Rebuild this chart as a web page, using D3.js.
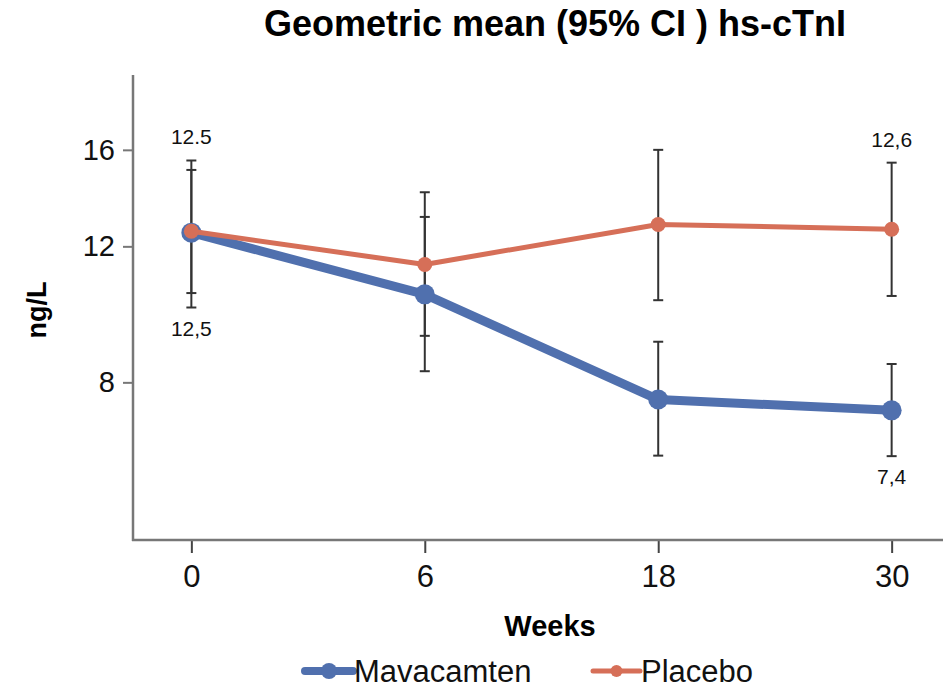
<!DOCTYPE html>
<html><head><meta charset="utf-8">
<script src="https://cdn.jsdelivr.net/npm/d3@7"></script>
<style>body{margin:0;background:#fff}svg{display:block}text{font-family:"Liberation Sans",Arial,sans-serif}</style>
</head><body>
<svg id="c" width="943" height="689"></svg>
<script>
const weeks = ["0","6","18","30"];
const mavMean = [12.5, 10.4, 7.6, 7.36];
const mavLow  = [10.0, 8.27, 6.43, 6.42];
const mavHigh = [15.5, 13.1, 9.03, 8.45];
const plaMean = [12.55, 11.37, 12.81, 12.63];
const plaLow  = [10.44, 9.19, 10.22, 10.35];
const plaHigh = [15.07, 14.1, 16.0, 15.4];
const yTicks = [8, 12, 16];
const topLabels = [{week:"0", text:"12.5"}, {week:"30", text:"12,6"}];
const bottomLabels = [{week:"0", text:"12,5"}, {week:"30", text:"7,4"}];
const seriesNames = ["Mavacamten", "Placebo"];

const svg = d3.select("#c");
const plotLeft = 133, plotBottom = 540, plotTop = 75;
const x = d3.scalePoint().domain(weeks).range([plotLeft, 950]).padding(0.25);
const y = d3.scaleLog().domain([5, 20]).range([plotBottom, plotTop]);
const blue = "#5070ae", orange = "#d66f58", axisCol = "#777";

svg.append("text").attr("x", 555).attr("y", 36).attr("text-anchor","middle")
  .attr("font-size", 36).attr("font-weight","bold").text("Geometric mean (95% CI ) hs-cTnI");

// y axis
const ya = svg.append("g").attr("transform", `translate(${plotLeft},0)`)
  .call(d3.axisLeft(y).tickValues(yTicks).tickFormat(d3.format("d")).tickSize(10).tickPadding(8).tickSizeOuter(0));
ya.select(".domain").remove();
ya.append("line").attr("x1",0).attr("x2",0).attr("y1",plotTop).attr("y2",plotBottom+1).attr("stroke",axisCol).attr("stroke-width",2.5);
ya.selectAll(".tick line").attr("stroke",axisCol).attr("stroke-width",2);
ya.selectAll(".tick text").attr("font-size",29).attr("fill","#111").attr("font-family","Liberation Sans, Arial, sans-serif");

// x axis
const xa = svg.append("g").attr("transform", `translate(0,${plotBottom})`)
  .call(d3.axisBottom(x).tickSize(13).tickPadding(12).tickSizeOuter(0));
xa.select(".domain").remove();
xa.append("line").attr("x1",plotLeft-1).attr("x2",943).attr("y1",0).attr("y2",0).attr("stroke",axisCol).attr("stroke-width",2.5);
xa.selectAll(".tick line").attr("stroke","#444").attr("stroke-width",2);
xa.selectAll(".tick text").attr("font-size",31).attr("fill","#111").attr("font-family","Liberation Sans, Arial, sans-serif");

svg.append("text").attr("transform","translate(46,310) rotate(-90)").attr("text-anchor","middle")
  .attr("font-size",27).attr("font-weight","bold").text("ng/L");
svg.append("text").attr("x",550).attr("y",636).attr("text-anchor","middle")
  .attr("font-size",29).attr("font-weight","bold").text("Weeks");

// error bars
function bars(low, high) {
  const g = svg.append("g").attr("stroke","#333").attr("stroke-width",2);
  weeks.forEach((w,i) => {
    const cx = x(w);
    g.append("line").attr("x1",cx).attr("x2",cx).attr("y1",y(low[i])).attr("y2",y(high[i]));
    [low[i], high[i]].forEach(v => g.append("line").attr("x1",cx-5).attr("x2",cx+5).attr("y1",y(v)).attr("y2",y(v)));
  });
}
bars(mavLow, mavHigh);
bars(plaLow, plaHigh);

function series(vals, color, lw, r) {
  svg.append("path").datum(vals)
    .attr("d", d3.line().x((d,i)=>x(weeks[i])).y(d=>y(d)))
    .attr("fill","none").attr("stroke",color).attr("stroke-width",lw).attr("stroke-linejoin","round");
  svg.append("g").selectAll("circle").data(vals).join("circle")
    .attr("cx",(d,i)=>x(weeks[i])).attr("cy",d=>y(d)).attr("r",r).attr("fill",color);
}
series(mavMean, blue, 9, 10);
series(plaMean, orange, 5, 7.5);

// data labels
topLabels.forEach(l => {
  const i = weeks.indexOf(l.week);
  svg.append("text").attr("x",x(l.week)).attr("y",y(Math.max(mavHigh[i],plaHigh[i]))-16)
    .attr("text-anchor","middle").attr("font-size",21).attr("fill","#111").text(l.text);
});
bottomLabels.forEach(l => {
  const i = weeks.indexOf(l.week);
  svg.append("text").attr("x",x(l.week)).attr("y",y(Math.min(mavLow[i],plaLow[i]))+28)
    .attr("text-anchor","middle").attr("font-size",21).attr("fill","#111").text(l.text);
});

// legend
const leg = [{name:seriesNames[0], color:blue, lw:8, r:8, x1:305, x2:353},
             {name:seriesNames[1], color:orange, lw:5, r:6, x1:593, x2:640}];
leg.forEach(d => {
  svg.append("line").attr("x1",d.x1).attr("x2",d.x2).attr("y1",671).attr("y2",671)
    .attr("stroke",d.color).attr("stroke-width",d.lw).attr("stroke-linecap","round");
  svg.append("circle").attr("cx",(d.x1+d.x2)/2).attr("cy",671).attr("r",d.r).attr("fill",d.color);
  svg.append("text").attr("x",d.x2+1).attr("y",682).attr("font-size",31).attr("fill","#111").text(d.name);
});
</script>
</body></html>
